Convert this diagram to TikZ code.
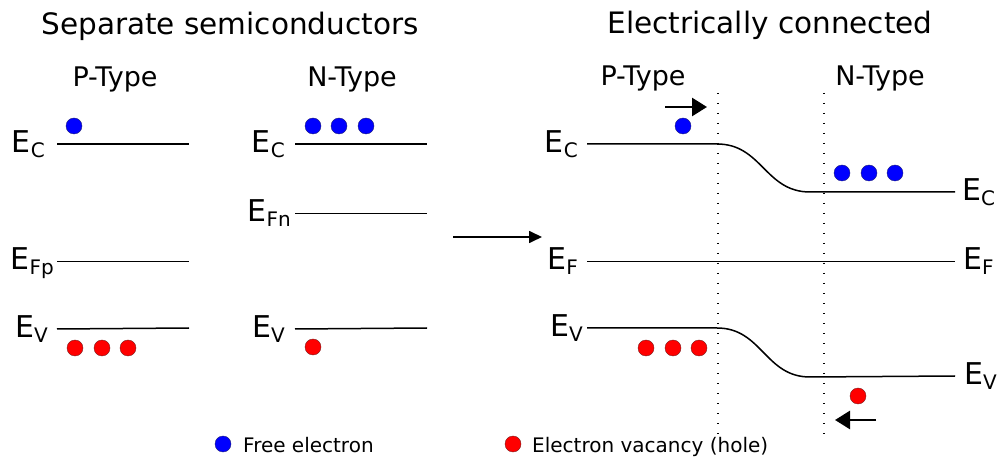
\documentclass[tikz,border=0pt]{standalone}
\usepackage{fontspec}
\setmainfont{DejaVu Sans}
\usetikzlibrary{arrows.meta,positioning}
\definecolor{elblue}{HTML}{0000FF}
\definecolor{elblueedge}{HTML}{20207A}
\definecolor{holered}{HTML}{FF0000}
\definecolor{holeredge}{HTML}{7A2020}
\newcommand{\lvl}[1]{E\raisebox{-5bp}{\fontsize{20bp}{22bp}\selectfont #1}}
\tikzset{
  bandline/.style={draw=black,line width=1.5bp},
  fermiline/.style={draw=black,line width=0.9bp},
  junction/.style={draw=black,line width=1.3bp,dash pattern=on 1.3bp off 8.7bp},
  lvllabel/.style={inner sep=0pt,font=\fontsize{30bp}{36bp}\selectfont},
  headtext/.style={inner sep=0pt,anchor=base,font=\fontsize{29.5bp}{35bp}\selectfont},
  typetext/.style={inner sep=0pt,anchor=base,font=\fontsize{27bp}{32bp}\selectfont},
  keytext/.style={inner sep=0pt,anchor=base west,font=\fontsize{20bp}{24bp}\selectfont},
  electron/.style={circle,fill=elblue,draw=elblueedge,line width=0.4bp,minimum size=16bp,inner sep=0pt},
  hole/.style={circle,fill=holered,draw=holeredge,line width=0.4bp,minimum size=16bp,inner sep=0pt},
  flowarrow/.style={-{Triangle[length=13bp,width=12bp]},line width=1.7bp},
  driftarrow/.style={-{Triangle[length=15bp,width=18bp]},line width=2.7bp}
}
\begin{document}
\begin{tikzpicture}[x=1bp,y=-1bp]
  \useasboundingbox (0,0) rectangle (998,457);
  % headings
  \node[headtext] (sephead) at (230,35) {Separate semiconductors};
  \node[headtext] (conhead) at (770,34) {Electrically connected};
  \node[typetext] (ptype) at (115,87) {P-Type};
  \node[typetext] (ntype) at (352,87) {N-Type};
  \node[typetext] (ptypej) at (643,86) {P-Type};
  \node[typetext] (ntypej) at (880,86) {N-Type};
  % separate P-type
  \coordinate (pc1) at (57,144);  \coordinate (pc2) at (189,144);
  \coordinate (pf1) at (57,261);  \coordinate (pf2) at (189,261);
  \coordinate (pv1) at (57,329);  \coordinate (pv2) at (189,328);
  \draw[bandline] (pc1) -- (pc2);
  \draw[fermiline] (pf1) -- (pf2);
  \draw[bandline] (pv1) -- (pv2);
  \node[lvllabel,left=12bp of pc1] (pcl) {\lvl{C}};
  \node[lvllabel,left=3bp of pf1,yshift=-2bp] (pfl) {\lvl{Fp}};
  \node[lvllabel,left=9bp of pv1] (pvl) {\lvl{V}};
  \node[electron] (pe1) at (74,126) {};
  \node[hole] (ph1) at (75,348) {};
  \node[hole] (ph2) at (102,348) {};
  \node[hole] (ph3) at (128,348) {};
  % separate N-type
  \coordinate (nc1) at (295,144); \coordinate (nc2) at (427,144);
  \coordinate (nf1) at (295,213); \coordinate (nf2) at (427,213);
  \coordinate (nv1) at (295,329); \coordinate (nv2) at (427,328);
  \draw[bandline] (nc1) -- (nc2);
  \draw[fermiline] (nf1) -- (nf2);
  \draw[bandline] (nv1) -- (nv2);
  \node[lvllabel,left=10bp of nc1] (ncl) {\lvl{C}};
  \node[lvllabel,left=4bp of nf1] (nfl) {\lvl{Fn}};
  \node[lvllabel,left=10bp of nv1] (nvl) {\lvl{V}};
  \node[electron] (ne1) at (313,126) {};
  \node[electron] (ne2) at (339,126) {};
  \node[electron] (ne3) at (366,126) {};
  \node[hole] (nh1) at (313,347) {};
  % joining arrow
  \coordinate (join1) at (453,237); \coordinate (join2) at (542,237);
  \draw[flowarrow] (join1) -- (join2);
  % connected junction
  \coordinate (jc1) at (587,144); \coordinate (jc2) at (717,144);
  \coordinate (jc3) at (810,192); \coordinate (jc4) at (955,192);
  \coordinate (jf1) at (587,261); \coordinate (jf2) at (955,261);
  \coordinate (jv1) at (587,328); \coordinate (jv2) at (717,328);
  \coordinate (jv3) at (810,377); \coordinate (jv4) at (955,376);
  \coordinate (dl1) at (718,93);  \coordinate (dl2) at (718,435);
  \coordinate (dr1) at (824,93);  \coordinate (dr2) at (824,435);
  \draw[junction] (dl1) -- (dl2);
  \draw[junction] (dr1) -- (dr2);
  \draw[bandline] (jc1) -- (jc2) .. controls +(45,0) and +(-45,0) .. (jc3) -- (jc4);
  \draw[fermiline] (jf1) -- (jf2);
  \draw[bandline] (jv1) -- (jv2) .. controls +(45,0) and +(-45,0) .. (jv3) -- (jv4);
  \node[lvllabel,left=9bp of jc1] (jcl) {\lvl{C}};
  \node[lvllabel,left=9bp of jf1] (jfl) {\lvl{F}};
  \node[lvllabel,left=4bp of jv1] (jvl) {\lvl{V}};
  \node[lvllabel,right=7bp of jc4] (jcr) {\lvl{C}};
  \node[lvllabel,right=8bp of jf2] (jfr) {\lvl{F}};
  \node[lvllabel,right=9bp of jv4] (jvr) {\lvl{V}};
  \node[electron] (je1) at (683,126) {};
  \node[electron] (je2) at (842,173) {};
  \node[electron] (je3) at (869,173) {};
  \node[electron] (je4) at (895,173) {};
  \node[hole] (jh1) at (646,348) {};
  \node[hole] (jh2) at (673,348) {};
  \node[hole] (jh3) at (699,348) {};
  \node[hole] (jh4) at (858,396) {};
  \coordinate (edrift1) at (665,107); \coordinate (edrift2) at (707,107);
  \coordinate (hdrift1) at (876,420); \coordinate (hdrift2) at (835,420);
  \draw[driftarrow] (edrift1) -- (edrift2);
  \draw[driftarrow] (hdrift1) -- (hdrift2);
  % key
  \node[electron] (keyel) at (223,444) {};
  \node[keytext] (keyeltext) at (243,452) {Free electron};
  \node[hole] (keyho) at (513,444) {};
  \node[keytext] (keyhotext) at (532,452) {Electron vacancy (hole)};
\end{tikzpicture}
\end{document}
